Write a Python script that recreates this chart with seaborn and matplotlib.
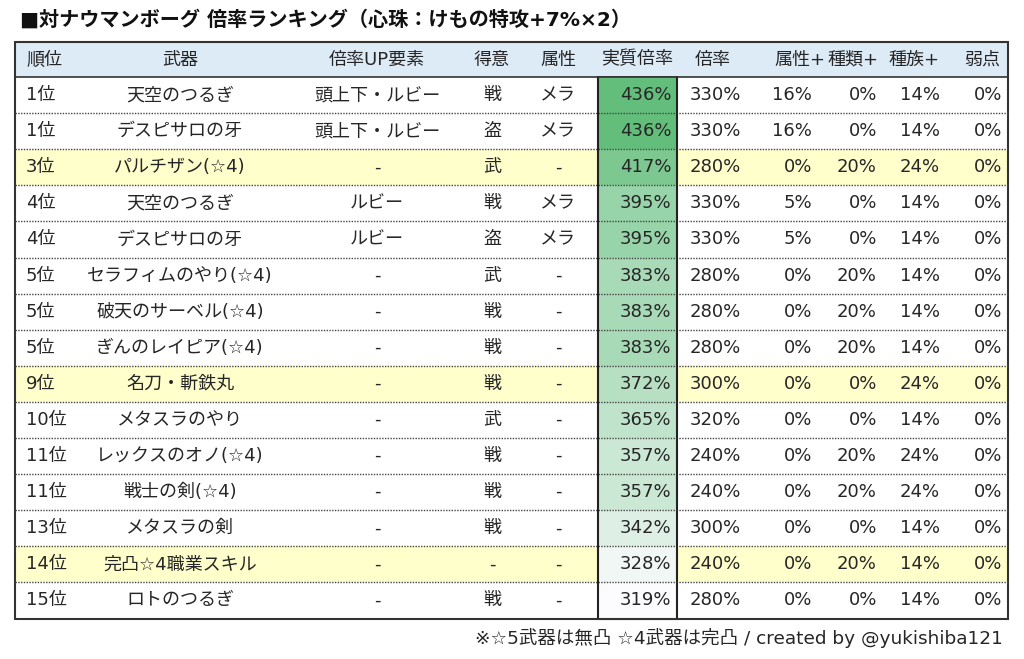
import matplotlib
matplotlib.use("Agg")
import matplotlib.pyplot as plt
from matplotlib.patches import Rectangle
from matplotlib.colors import LinearSegmentedColormap
import seaborn as sns
import pandas as pd

sns.set_theme(style="white")
plt.rcParams['font.family'] = ['DejaVu Sans', 'Noto Sans CJK JP']

title = "■対ナウマンボーグ 倍率ランキング（心珠：けもの特攻+7%×2）"
footer = "※☆5武器は無凸 ☆4武器は完凸 / created by @yukishiba121"
headers = ["順位", "武器", "倍率UP要素", "得意", "属性", "実質倍率", "倍率", "属性+", "種類+", "種族+", "弱点"]

rank = ["1位", "1位", "3位", "4位", "4位", "5位", "5位", "5位", "9位", "10位", "11位", "11位", "13位", "14位", "15位"]
weapon = ["天空のつるぎ", "デスピサロの牙", "パルチザン(☆4)", "天空のつるぎ", "デスピサロの牙",
          "セラフィムのやり(☆4)", "破天のサーベル(☆4)", "ぎんのレイピア(☆4)", "名刀・斬鉄丸",
          "メタスラのやり", "レックスのオノ(☆4)", "戦士の剣(☆4)", "メタスラの剣",
          "完凸☆4職業スキル", "ロトのつるぎ"]
up_factor = ["頭上下・ルビー", "頭上下・ルビー", "-", "ルビー", "ルビー", "-", "-", "-", "-", "-", "-", "-", "-", "-", "-"]
job = ["戦", "盗", "武", "戦", "盗", "武", "戦", "戦", "戦", "武", "戦", "戦", "戦", "-", "戦"]
element = ["メラ", "メラ", "-", "メラ", "メラ", "-", "-", "-", "-", "-", "-", "-", "-", "-", "-"]
effective = [436, 436, 417, 395, 395, 383, 383, 383, 372, 365, 357, 357, 342, 328, 319]
base_rate = [330, 330, 280, 330, 330, 280, 280, 280, 300, 320, 240, 240, 300, 240, 280]
elem_plus = [16, 16, 0, 5, 5, 0, 0, 0, 0, 0, 0, 0, 0, 0, 0]
type_plus = [0, 0, 20, 0, 0, 20, 20, 20, 0, 0, 20, 20, 0, 20, 0]
race_plus = [14, 14, 24, 14, 14, 14, 14, 14, 24, 14, 24, 24, 14, 14, 14]
weak = [0, 0, 0, 0, 0, 0, 0, 0, 0, 0, 0, 0, 0, 0, 0]
highlight = [2, 8, 13]

W, H = 1024, 659
left, right = 15, 1008
top, head_h = 42, 35
row_h = 36.1
n = len(rank)
bottom = top + head_h + row_h * n
col_l, col_r = 598, 677
txt = "#262626"
fs = 13

fig = plt.figure(figsize=(W / 100, H / 100), dpi=100)
ax = fig.add_axes([0, 0, 1, 1])
ax.set_xlim(0, W)
ax.set_ylim(H, 0)
ax.set_axis_off()

# background fills
ax.add_patch(Rectangle((left, top), right - left, head_h, color="#DDEBF7", lw=0))
for i in highlight:
    ax.add_patch(Rectangle((left, top + head_h + row_h * i), right - left, row_h, color="#FFFFCC", lw=0))

# dotted row separators
for i in range(1, n):
    y = top + head_h + row_h * i
    ax.plot([left, right], [y, y], ls=(0, (1, 1)), color="#444444", lw=1)
ax.plot([left, right], [top + head_h] * 2, color="#333333", lw=1.2)
ax.add_patch(Rectangle((left, top), right - left, bottom - top, fill=False, ec="#333333", lw=1.5))

ax.text(20, 20, title, fontsize=14.5, fontweight="bold", color="#111111", va="center", ha="left")
ax.text(1003, 638, footer, fontsize=13.3, color=txt, va="center", ha="right")

# header
hx = [(26, "left"), (180, "center"), (377, "center"), (492, "center"), (558, "center"),
      (637, "center"), (713, "center"), (800, "center"), (853, "center"), (914, "center"), (982, "center")]
for (x, ha), h in zip(hx, headers):
    ax.text(x, top + head_h / 2, h, fontsize=fs, color=txt, ha=ha, va="center")

for i in range(n):
    y = top + head_h + row_h * (i + 0.5)
    ax.text(26, y, rank[i], fontsize=fs, color=txt, ha="left", va="center")
    ax.text(180, y, weapon[i], fontsize=fs, color=txt, ha="center", va="center")
    ax.text(377, y, up_factor[i], fontsize=fs, color=txt, ha="center", va="center")
    ax.text(492, y, job[i], fontsize=fs, color=txt, ha="center", va="center")
    ax.text(558, y, element[i], fontsize=fs, color=txt, ha="center", va="center")
    ax.text(741, y, f"{base_rate[i]}%", fontsize=fs, color=txt, ha="right", va="center")
    ax.text(812, y, f"{elem_plus[i]}%", fontsize=fs, color=txt, ha="right", va="center")
    ax.text(877, y, f"{type_plus[i]}%", fontsize=fs, color=txt, ha="right", va="center")
    ax.text(940, y, f"{race_plus[i]}%", fontsize=fs, color=txt, ha="right", va="center")
    ax.text(1002, y, f"{weak[i]}%", fontsize=fs, color=txt, ha="right", va="center")

# effective multiplier column as a heatmap (color scale)
hax = fig.add_axes([col_l / W, 1 - bottom / H, (col_r - col_l) / W, (bottom - top - head_h) / H])
cmap = LinearSegmentedColormap.from_list("g", ["#FCFCFF", "#63BE7B"])
sns.heatmap(pd.DataFrame({"eff": effective}), ax=hax, cmap=cmap, vmin=min(effective), vmax=max(effective),
            cbar=False, xticklabels=False, yticklabels=False)
for i in range(n):
    hax.text(0.93, i + 0.5, f"{effective[i]}%", fontsize=fs, color=txt, ha="right", va="center")
for i in range(1, n):
    hax.axhline(i, ls=(0, (1, 1)), color="#444444", lw=1)
hax.axvline(0, color="#222222", lw=1.5, clip_on=False)
hax.axvline(1, color="#222222", lw=1.5, clip_on=False)
hax.axhline(n, color="#333333", lw=1.5, clip_on=False)
hax.axhline(0, color="#333333", lw=1.2, clip_on=False)

fig.savefig("out.png", dpi=100)
